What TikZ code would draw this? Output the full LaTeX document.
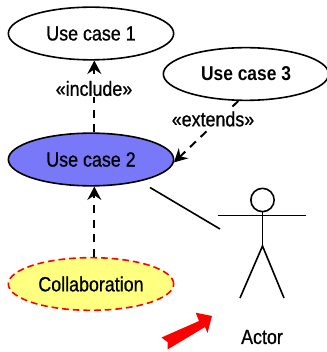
\documentclass[tikz,border=0pt]{standalone}
\usepackage{fontspec}
\setmainfont[FakeStretch=0.87,FakeBold=0.8,BoldFeatures={FakeBold=0}]{Liberation Sans}
\usetikzlibrary{arrows.meta,shapes.geometric}
\definecolor{blue}{HTML}{7878F8}
\definecolor{yellow}{HTML}{FFFF80}
\definecolor{red}{HTML}{FF0000}

\begin{document}
\begin{tikzpicture}[x=0.75pt, y=-0.75pt, every path/.style={line cap=butt, line width=1.2pt}]

        \tikzset{usecase/.style = {shape=ellipse,draw,minimum width=124pt,minimum height=39.5pt,inner sep=0pt,font=\fontsize{15.4}{17}\selectfont}}
        \tikzset{edgelabel/.style = {fill=white,inner sep=1pt,font=\fontsize{15.4}{17}\selectfont}}
        \tikzset{dep/.style = {line width=1.5pt,dash pattern=on 6pt off 5pt,-{Stealth[length=10pt,width=10.5pt,inset=3.5pt]}}}

        \useasboundingbox (0,0) rectangle (327,352);

        \node[usecase] (uc1) at (91,33.5) {Use case 1};
        \node[usecase,font=\fontsize{15}{17}\selectfont\bfseries] (uc3) at (246,74) {Use case 3};
        \node[usecase,fill=blue] (uc2) at (91,159.5) {Use case 2};
        \node[usecase,fill=yellow,draw=red,dash pattern=on 5pt off 3pt] (collab) at (91,284) {Collaboration};

        \draw[dep] (uc2.83) to (uc1.-83);
        \draw[dep] (uc3.-106) to (uc2.-2);
        \draw[dep] (collab.83) to (uc2.-83);

        \node[edgelabel] (include) at (94,88.5) {«include»};
        \node[edgelabel] (extends) at (213,119) {«extends»};

        % actor
        \node[shape=circle,draw,minimum size=17.5pt,inner sep=0pt] (head) at (262.5,200) {};
        \coordinate (handl) at (218,215.5);
        \coordinate (handr) at (306,215.5);
        \coordinate (hip) at (262.5,246);
        \coordinate (footl) at (240,298);
        \coordinate (footr) at (284,298);
        \coordinate (assocl) at (150,187.5);
        \coordinate (assocr) at (220,229);
        \draw (handl) -- (handr);
        \draw (head) -- (hip);
        \draw (footl) -- (hip) -- (footr);
        \draw (assocl) -- (assocr);
        \node[font=\fontsize{15.4}{17}\selectfont] (actor) at (262,337) {Actor};

        \fill[red] (161.5,337.5) -- (167.5,342) -- (167.5,349.5) -- (205,327) -- (207.5,333) -- (212,316) -- (195.7,312.7) -- (199,321) -- cycle;
\end{tikzpicture}
\end{document}
